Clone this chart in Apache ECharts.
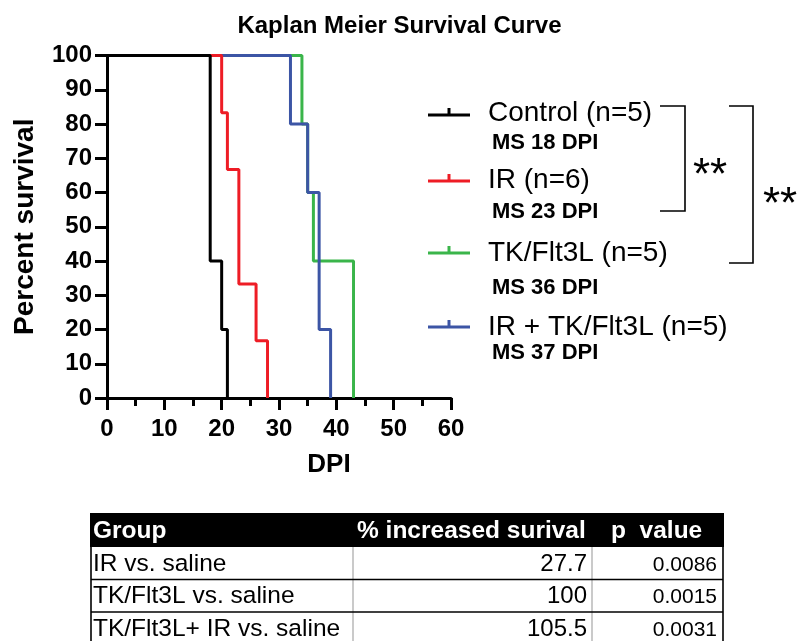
<!DOCTYPE html>
<html>
<head>
<meta charset="utf-8">
<script src="https://cdn.jsdelivr.net/npm/echarts@6/dist/echarts.min.js"></script>
<style>
  html, body { margin: 0; padding: 0; background: #fff; }
  #main { width: 799px; height: 641px; }
</style>
</head>
<body>
<div id="main"></div>
<script>
// Kaplan-Meier step data (day, percent surviving)
const controlDays = [0, 18, 20, 21];
const controlSurvival = [100, 40, 20, 0];
const irDays = [0, 20, 21, 23, 26, 28];
const irSurvival = [100, 83.3, 66.7, 33.3, 16.7, 0];
const tkDays = [0, 34, 35, 36, 43];
const tkSurvival = [100, 80, 60, 40, 0];
const comboDays = [0, 32, 35, 37, 39];
const comboSurvival = [100, 80, 60, 20, 0];

const groupNames = ["Control (n=5)", "IR (n=6)", "TK/Flt3L (n=5)", "IR + TK/Flt3L (n=5)"];
const medianLabels = ["MS 18 DPI", "MS 23 DPI", "MS 36 DPI", "MS 37 DPI"];
const groupColors = ["#000000", "#ee1c25", "#3ab54a", "#3c55a5"];

const xTicks = [0, 10, 20, 30, 40, 50, 60];
const yTicks = [0, 10, 20, 30, 40, 50, 60, 70, 80, 90, 100];

// table under the chart
const tableHeader = ["Group", "% increased surival", "p  value"];
const tableGroups = ["IR vs. saline", "TK/Flt3L vs. saline", "TK/Flt3L+ IR vs. saline"];
const tableIncrease = ["27.7", "100", "105.5"];
const tablePValue = ["0.0086", "0.0015", "0.0031"];

const FONT = '"Liberation Sans", Arial, sans-serif';
const chart = echarts.init(document.getElementById("main"));

function pairs(days, surv) {
  return days.map(function (d, i) { return [d, surv[i]]; });
}
const curves = [
  pairs(controlDays, controlSurvival),
  pairs(irDays, irSurvival),
  pairs(tkDays, tkSurvival),
  pairs(comboDays, comboSurvival),
];

// draw order: green at bottom, then blue, red, black on top
const drawOrder = [2, 3, 1, 0];
const series = drawOrder.map(function (g, k) {
  return {
    name: groupNames[g],
    type: "line",
    step: "end",
    data: curves[g],
    symbol: "none",
    z: 2 + k,
    lineStyle: { color: groupColors[g], width: 3 },
    itemStyle: { color: groupColors[g] },
    animation: false,
  };
});

// legend + annotation graphics
const legendY = [115, 181, 253, 327];
const labelY = [113, 180, 253, 327];
const medianY = [143, 212, 288, 353];
const graphics = [];
groupNames.forEach(function (name, i) {
  graphics.push({
    type: "polyline",
    shape: { points: [[428, legendY[i]], [470, legendY[i]]] },
    style: { stroke: groupColors[i], lineWidth: 3, fill: null },
  });
  graphics.push({
    type: "polyline",
    shape: { points: [[449, legendY[i] - 7], [449, legendY[i]]] },
    style: { stroke: groupColors[i], lineWidth: 3, fill: null },
  });
  graphics.push({
    type: "text", x: 488, y: labelY[i],
    style: { text: name, font: "28px " + FONT, fill: "#000", verticalAlign: "middle" },
  });
  graphics.push({
    type: "text", x: 492, y: medianY[i],
    style: { text: medianLabels[i], font: "bold 22px " + FONT, fill: "#000", verticalAlign: "middle" },
  });
});
// significance brackets
graphics.push({
  type: "polyline",
  shape: { points: [[660, 106], [685, 106], [685, 211], [660, 211]] },
  style: { stroke: "#000", lineWidth: 1.6, fill: null },
});
graphics.push({
  type: "polyline",
  shape: { points: [[729, 106], [753, 106], [753, 263], [729, 263]] },
  style: { stroke: "#000", lineWidth: 1.6, fill: null },
});
graphics.push({
  type: "text", x: 710, y: 177,
  style: { text: "**", font: "44px " + FONT, fill: "#000", align: "center", verticalAlign: "middle" },
});
graphics.push({
  type: "text", x: 780, y: 206,
  style: { text: "**", font: "44px " + FONT, fill: "#000", align: "center", verticalAlign: "middle" },
});

// table
const tLeft = 91, tRight = 723, tTop = 513;
const colX = [353, 592];
graphics.push({
  type: "rect",
  shape: { x: tLeft - 1, y: tTop, width: tRight - tLeft + 2, height: 34 },
  style: { fill: "#000" },
});
const headerX = [93, 357, 611];
tableHeader.forEach(function (h, i) {
  graphics.push({
    type: "text", x: headerX[i], y: tTop + 18,
    style: { text: h, font: "bold 24.5px " + FONT, fill: "#fff", verticalAlign: "middle" },
  });
});
colX.forEach(function (cx) {
  graphics.push({
    type: "polyline",
    shape: { points: [[cx, tTop + 34], [cx, 641]] },
    style: { stroke: "#b8b8b8", lineWidth: 1.5, fill: null },
  });
});
[tLeft, tRight].forEach(function (bx) {
  graphics.push({
    type: "polyline",
    shape: { points: [[bx, tTop], [bx, 641]] },
    style: { stroke: "#000", lineWidth: 1.6, fill: null },
  });
});
tableGroups.forEach(function (g, r) {
  const top = tTop + 34 + r * 32.5;
  if (r > 0) {
    graphics.push({
      type: "polyline",
      shape: { points: [[tLeft, top], [tRight, top]] },
      style: { stroke: "#000", lineWidth: 1.6, fill: null },
    });
  }
  const cy = top + 17;
  graphics.push({
    type: "text", x: 93, y: cy,
    style: { text: g, font: "24.5px " + FONT, fill: "#000", verticalAlign: "middle" },
  });
  graphics.push({
    type: "text", x: 587, y: cy,
    style: { text: tableIncrease[r], font: "24px " + FONT, fill: "#000", align: "right", verticalAlign: "middle" },
  });
  graphics.push({
    type: "text", x: 717, y: cy + 1,
    style: { text: tablePValue[r], font: "21px " + FONT, fill: "#000", align: "right", verticalAlign: "middle" },
  });
});

const option = {
  animation: false,
  textStyle: { fontFamily: FONT },
  title: {
    text: "Kaplan Meier Survival Curve",
    left: "center",
    top: 9,
    textStyle: { fontSize: 24, fontWeight: "bold", color: "#000", fontFamily: FONT },
  },
  grid: { left: 107, right: 348, top: 55.5, bottom: 243, containLabel: false },
  xAxis: {
    type: "value",
    min: xTicks[0],
    max: xTicks[xTicks.length - 1],
    interval: 10,
    name: "DPI",
    nameLocation: "middle",
    nameGap: 54,
    nameTextStyle: { fontSize: 26, fontWeight: "bold", color: "#000", fontFamily: FONT, padding: [0, 0, 0, 100] },
    axisLine: { lineStyle: { color: "#000", width: 3 } },
    axisTick: { length: 12, lineStyle: { color: "#000", width: 3 } },
    minorTick: { show: true, splitNumber: 2, length: 8, lineStyle: { color: "#000", width: 3 } },
    axisLabel: { margin: 19, fontSize: 24, fontWeight: "bold", color: "#000", fontFamily: FONT },
    splitLine: { show: false },
    minorSplitLine: { show: false },
  },
  yAxis: {
    type: "value",
    min: yTicks[0],
    max: yTicks[yTicks.length - 1],
    interval: 10,
    name: "Percent survival",
    nameLocation: "middle",
    nameGap: 68,
    nameTextStyle: { fontSize: 28, fontWeight: "bold", color: "#000", fontFamily: FONT },
    axisLine: { show: true, lineStyle: { color: "#000", width: 3 } },
    axisTick: { show: true, length: 12, lineStyle: { color: "#000", width: 3 } },
    axisLabel: { margin: 15, fontSize: 24, fontWeight: "bold", color: "#000", fontFamily: FONT },
    splitLine: { show: false },
  },
  series: series,
  graphic: graphics,
};

chart.setOption(option);
</script>
</body>
</html>
